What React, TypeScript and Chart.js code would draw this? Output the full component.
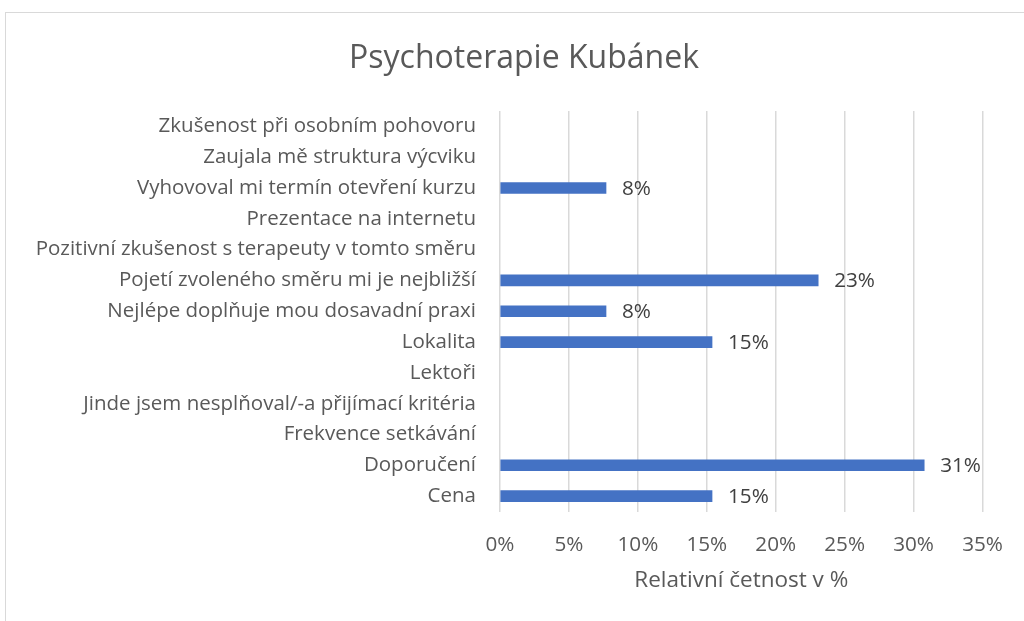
import React, { useEffect, useRef } from "react";
import { Chart, registerables } from "chart.js";

Chart.register(...registerables);

const TITLE = "Psychoterapie Kubánek";
const AXIS_TITLE = "Relativní četnost v %";

const categories: string[] = [
  "Zkušenost při osobním pohovoru",
  "Zaujala mě struktura výcviku",
  "Vyhovoval mi termín otevření kurzu",
  "Prezentace na internetu",
  "Pozitivní zkušenost s terapeuty v tomto směru",
  "Pojetí zvoleného směru mi je nejbližší",
  "Nejlépe doplňuje mou dosavadní praxi",
  "Lokalita",
  "Lektoři",
  "Jinde jsem nesplňoval/-a přijímací kritéria",
  "Frekvence setkávání",
  "Doporučení",
  "Cena",
];

const values: (number | null)[] = [
  null, null, 7.69, null, null, 23.08, 7.69, 15.38, null, null, null, 30.77, 15.38,
];

const xTicks: number[] = [0, 5, 10, 15, 20, 25, 30, 35];

const FONT = "'Open Sans', sans-serif";

const dataLabels = {
  id: "dataLabels",
  afterDatasetsDraw(chart: any) {
    const ctx = chart.ctx;
    const meta = chart.getDatasetMeta(0);
    const ds = chart.data.datasets[0].data as (number | null)[];
    ctx.save();
    ctx.font = `20.7px ${FONT}`;
    ctx.fillStyle = "#404040";
    ctx.textAlign = "left";
    ctx.textBaseline = "middle";
    meta.data.forEach((el: any, i: number) => {
      const v = ds[i];
      if (v === null || v === undefined) return;
      ctx.fillText(`${Math.round(v)}%`, el.x + 16, el.y + 1);
    });
    ctx.restore();
  },
};

const chartTitle = {
  id: "chartTitle",
  afterDraw(chart: any) {
    const ctx = chart.ctx;
    ctx.save();
    ctx.font = `32px ${FONT}`;
    ctx.fillStyle = "#595959";
    ctx.textAlign = "center";
    ctx.textBaseline = "alphabetic";
    ctx.fillText(TITLE, 524, 68);
    ctx.restore();
  },
};

export default function App() {
  const ref = useRef<HTMLCanvasElement | null>(null);

  useEffect(() => {
    if (!ref.current) return;
    const chart = new Chart(ref.current, {
      type: "bar",
      data: {
        labels: categories,
        datasets: [
          {
            data: values as any,
            backgroundColor: "#4472C4",
            borderColor: "#4472C4",
            borderWidth: 0,
            barThickness: 11,
          },
        ],
      },
      options: {
        indexAxis: "y",
        animation: false,
        responsive: false,
        maintainAspectRatio: false,
        layout: { padding: { left: 0, right: 36.7, top: 111, bottom: 0 } },
        plugins: {
          legend: { display: false },
          tooltip: { enabled: false },
          title: { display: false },
        },
        scales: {
          x: {
            min: 0,
            max: 35,
            afterFit(scale: any) {
              scale.height = 109.5;
            },
            afterBuildTicks(scale: any) {
              scale.ticks = xTicks.map((v) => ({ value: v }));
            },
            grid: { color: "#d9d9d9", lineWidth: 1.5, drawTicks: false },
            border: { display: false },
            ticks: {
              padding: 21.1,
              color: "#595959",
              font: { family: FONT, size: 20.7 },
              callback: (v: any) => `${v}%`,
            },
            title: {
              display: true,
              text: AXIS_TITLE,
              color: "#595959",
              font: { family: FONT, size: 22.5 },
              padding: { top: 0, bottom: 26.5 },
            },
          },
          y: {
            afterFit(scale: any) {
              scale.width = 500;
            },
            grid: { display: false, drawTicks: false },
            border: { display: false },
            ticks: {
              padding: 24,
              color: "#595959",
              font: { family: FONT, size: 20.5 },
              autoSkip: false,
            },
          },
        },
      },
      plugins: [dataLabels, chartTitle],
    });
    return () => chart.destroy();
  }, []);

  return (
    <div style={{ position: "absolute", left: 0, top: 0, width: 1024, height: 621, overflow: "hidden", background: "#fff" }}>
      <div
        style={{
          position: "absolute",
          left: 5,
          top: 12,
          width: 1040,
          height: 640,
          border: "1px solid #d9d9d9",
          boxSizing: "border-box",
        }}
      />
      <canvas ref={ref} width={1024} height={621} style={{ position: "absolute", left: 0, top: 0, width: 1024, height: 621 }} />
    </div>
  );
}
